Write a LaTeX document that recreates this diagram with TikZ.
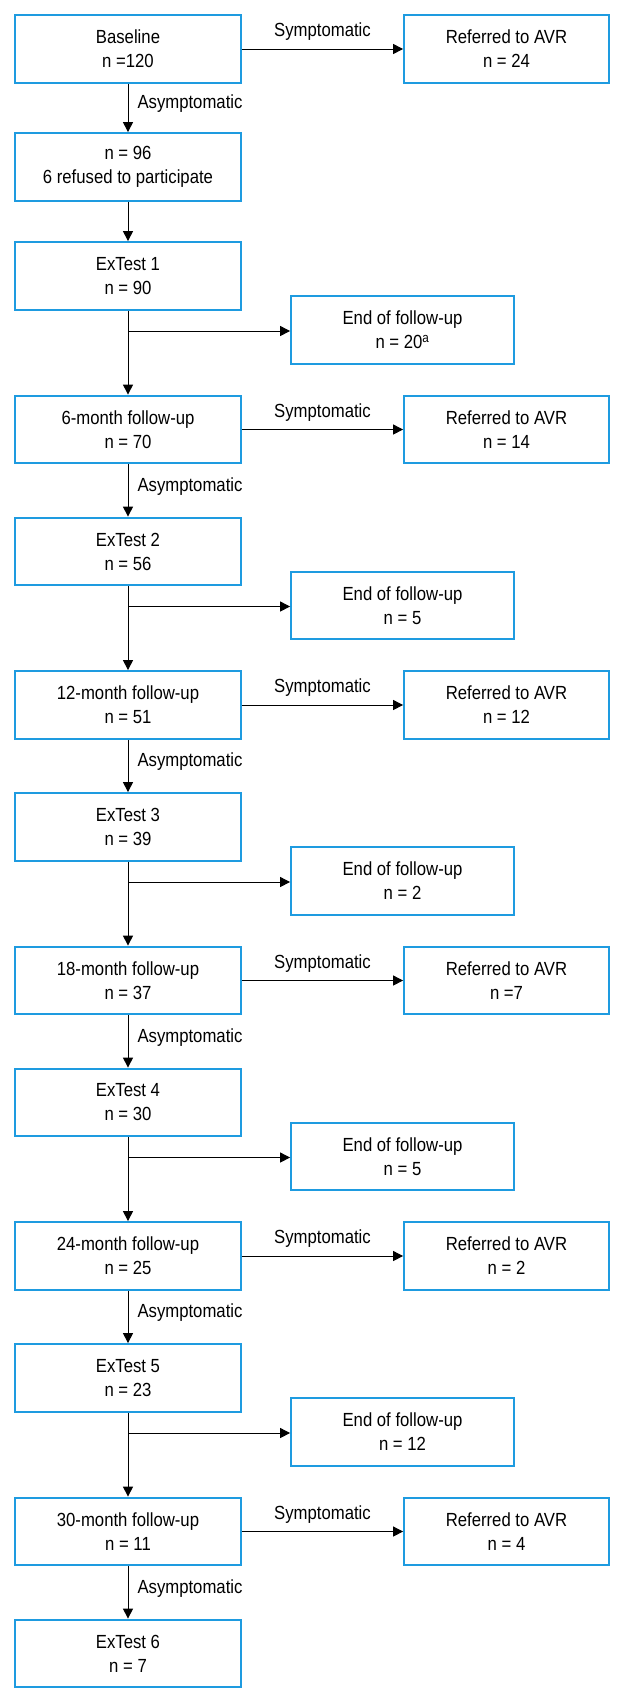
\documentclass[tikz,border=0pt]{standalone}
\usepackage{fontspec}
\setmainfont{Liberation Sans}[FakeStretch=0.88]
\usetikzlibrary{arrows.meta}
\definecolor{boxblue}{RGB}{30,155,224}
\tikzset{
  box/.style={draw=boxblue, line width=2.3pt, minimum height=67.5pt, align=center, inner sep=0pt,
    font=\fontsize{19}{24}\selectfont},
  lbox/.style={box, minimum width=225.5pt},
  rbox/.style={box, minimum width=204.5pt},
  ebox/.style={box, minimum width=222.5pt},
  arr/.style={-{Triangle[length=10pt,width=10pt]}, line width=1pt, black},
  lab/.style={font=\fontsize{19}{22}\selectfont, inner sep=3pt},
}
\begin{document}
\begin{tikzpicture}[x=1pt,y=-1pt]
\useasboundingbox (0,0) rectangle (626,1706);
\node[lbox] (base) at (128,49) {Baseline\\n =120};
\node[rbox] (r0) at (506.5,49) {Referred to AVR\\n = 24};
\node[lbox] (n96) at (128,167) {n = 96\\6 refused to participate};
\node[lbox] (e1) at (128,276) {ExTest 1\\n = 90};
\node[ebox] (end1) at (402.5,330) {End of follow-up\\n = 20\textsuperscript{a}};
\node[lbox] (f6) at (128,429.5) {6-month follow-up\\n = 70};
\node[rbox] (r6) at (506.5,429.5) {Referred to AVR\\n = 14};
\node[lbox] (e2) at (128,551.5) {ExTest 2\\n = 56};
\node[ebox] (end2) at (402.5,605.5) {End of follow-up\\n = 5};
\node[lbox] (f12) at (128,705) {12-month follow-up\\n = 51};
\node[rbox] (r12) at (506.5,705) {Referred to AVR\\n = 12};
\node[lbox] (e3) at (128,827) {ExTest 3\\n = 39};
\node[ebox] (end3) at (402.5,881) {End of follow-up\\n = 2};
\node[lbox] (f18) at (128,980.5) {18-month follow-up\\n = 37};
\node[rbox] (r18) at (506.5,980.5) {Referred to AVR\\n =7};
\node[lbox] (e4) at (128,1102.5) {ExTest 4\\n = 30};
\node[ebox] (end4) at (402.5,1156.5) {End of follow-up\\n = 5};
\node[lbox] (f24) at (128,1256) {24-month follow-up\\n = 25};
\node[rbox] (r24) at (506.5,1256) {Referred to AVR\\n = 2};
\node[lbox] (e5) at (128,1378) {ExTest 5\\n = 23};
\node[ebox] (end5) at (402.5,1432) {End of follow-up\\n = 12};
\node[lbox] (f30) at (128,1531.5) {30-month follow-up\\n = 11};
\node[rbox] (r30) at (506.5,1531.5) {Referred to AVR\\n = 4};
\node[lbox] (e6) at (128,1653.5) {ExTest 6\\n = 7};
\coordinate (b1) at (128,331);
\coordinate (b2) at (128,606.5);
\coordinate (b3) at (128,882);
\coordinate (b4) at (128,1157.5);
\coordinate (b5) at (128,1433);
\foreach \a/\b in {base/r0,f6/r6,f12/r12,f18/r18,f24/r24,f30/r30}{
  \draw[arr] (\a.east) -- node[lab, above=5pt]{Symptomatic} (\b.west);
}
\foreach \a/\b in {base/n96,f6/e2,f12/e3,f18/e4,f24/e5,f30/e6}{
  \draw[arr] (\a.south) -- node[lab, right=6pt, yshift=4pt]{Asymptomatic} (\b.north);
}
\draw[arr] (n96.south) -- (e1.north);
\foreach \a/\b/\c/\d in {e1/f6/b1/end1,e2/f12/b2/end2,e3/f18/b3/end3,e4/f24/b4/end4,e5/f30/b5/end5}{
  \draw[arr] (\a.south) -- (\b.north);
  \draw[arr] (\c) -- (\d.west |- \c);
}
\end{tikzpicture}
\end{document}
